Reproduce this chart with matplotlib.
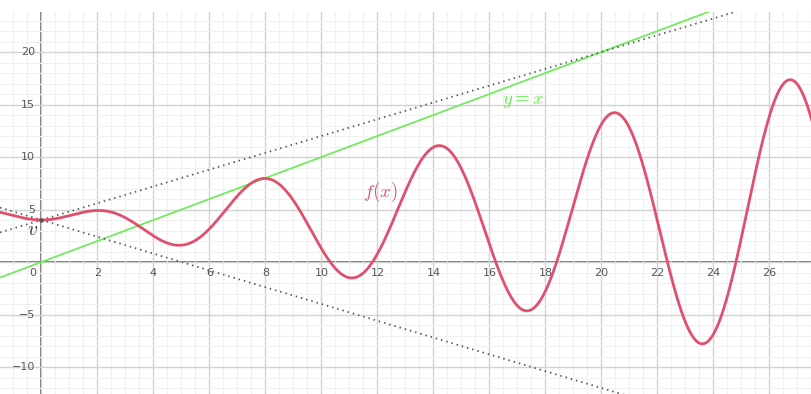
import numpy as np
import matplotlib
matplotlib.use("Agg")
import matplotlib.pyplot as plt
from matplotlib.ticker import MultipleLocator

plt.rcParams["mathtext.fontset"] = "cm"

# f(x) = base + amp_coef * x * sin(x)
f_base = 4.0
f_amp_coef = 0.5

# dotted guide lines through v: y = v_y + slope * x
guide_slopes = [0.8, -0.8]

# point v
v_point = (0.0, 4.0)

# view window
x_min, x_max = -1.48, 27.52
y_min, y_max = -12.57, 23.81

x_ticks = list(range(0, 27, 2))
y_ticks = [-10, -5, 5, 10, 15, 20]

RED = "#E0506E"
GREEN = "#66EE4E"

fig = plt.figure(figsize=(8.12, 3.94), dpi=100)
ax = fig.add_axes([0, 0, 1, (394 - 12) / 394])
ax.set_xlim(x_min, x_max)
ax.set_ylim(y_min, y_max)

# grid
ax.xaxis.set_major_locator(MultipleLocator(2))
ax.xaxis.set_minor_locator(MultipleLocator(0.5))
ax.yaxis.set_major_locator(MultipleLocator(5))
ax.yaxis.set_minor_locator(MultipleLocator(1))
ax.grid(which="minor", color="#f0f0f0", lw=0.8, zorder=0)
ax.grid(which="major", color="#d2d2d2", lw=1.0, zorder=0)
ax.tick_params(which="both", length=0, labelbottom=False, labelleft=False)
for s in ax.spines.values():
    s.set_visible(False)

# axes lines
ax.axhline(0, color="#555555", lw=1.2, zorder=1)
ax.axvline(0, color="#555555", lw=1.2, zorder=1)

# tick labels next to the axes
for t in x_ticks:
    xo = -0.3 if t == 0 else 0
    ax.text(t + xo, -0.6, str(t), ha="center", va="top", fontsize=8, color="#555555")
for t in y_ticks:
    label = str(t).replace("-", "\u2212")
    ax.text(-0.22, t, label, ha="right", va="center", fontsize=8, color="#555555")

# y = x
xs = np.linspace(x_min, x_max, 400)
ax.plot(xs, xs, color=GREEN, lw=1.2, zorder=3)

# dotted guides
for m in guide_slopes:
    ax.plot(xs, v_point[1] + m * xs, color="#555555", lw=1.3,
            linestyle=(0, (0.8, 2.2)), zorder=3)

# f(x)
xf = np.linspace(x_min, x_max, 2000)
ax.plot(xf, f_base + f_amp_coef * xf * np.sin(xf), color=RED, lw=2.0, zorder=4,
        solid_capstyle="round")

# point v
ax.plot(*v_point, "o", color="#555555", ms=2.2, zorder=5)
ax.text(-0.3, 3.1, r"$v$", fontsize=14, color="#333333", ha="center", va="center", zorder=6)

# labels
ax.text(12.1, 6.7, r"$f(x)$", fontsize=13.5, color=RED, ha="center", va="center")
ax.text(17.2, 15.4, r"$y = x$", fontsize=13.5, color=GREEN, ha="center", va="center")

fig.savefig("out.png", dpi=100, facecolor="white")
